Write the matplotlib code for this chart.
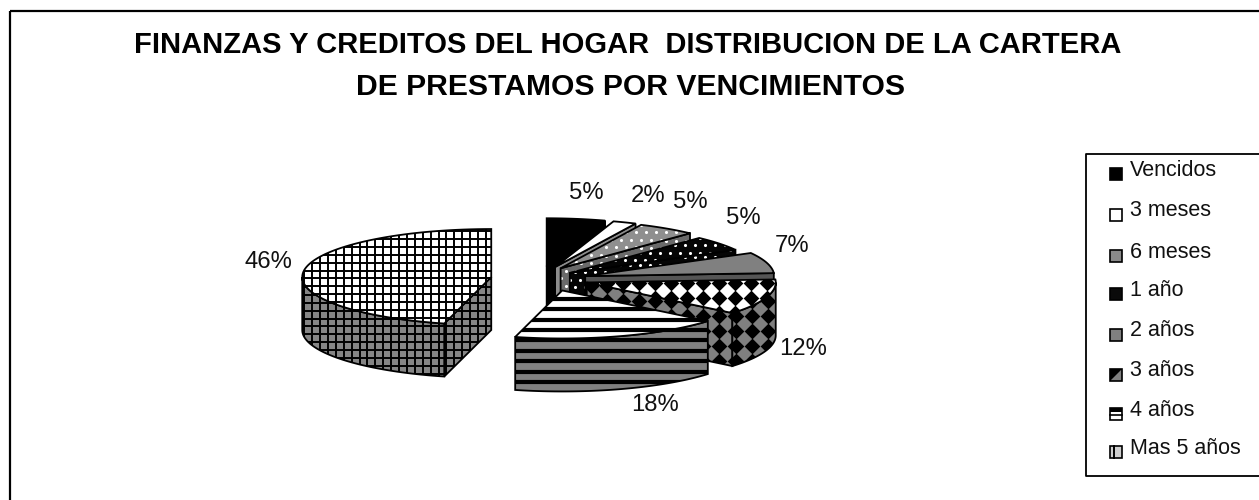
import numpy as np
import matplotlib
matplotlib.use("Agg")
import matplotlib.pyplot as plt
from matplotlib.patches import Polygon, Rectangle
from matplotlib.collections import LineCollection

plt.rcParams["font.family"] = ["Liberation Sans", "DejaVu Sans"]

TITLE_1 = "FINANZAS Y CREDITOS DEL HOGAR  DISTRIBUCION DE LA CARTERA"
TITLE_2 = "DE PRESTAMOS POR VENCIMIENTOS"
categorias = ["Vencidos", "3 meses", "6 meses", "1 año", "2 años", "3 años", "4 años", "Mas 5 años"]
valores = [5, 2, 5, 5, 7, 12, 18, 46]

# geometria del pastel (pixeles de la imagen)
CX, CY = 540, 278.6
A, B, DEPTH = 189, 48, 53
EXPLODE = 0.26
# pequeño ajuste del centro de cada porcion
ajuste_x = [-1, -3, -7, -9, -2, 0, 7, 0]
ajuste_y = [0, 0, 0, 2, 1, 0, 0, 0]

# estilo de cada porcion: top, lado, patron
estilos = [
    ("#000000", "#000000", None),
    ("#ffffff", "#8c8c8c", None),
    ("#8f8f8f", "#6a6a6a", "dots"),
    ("#050505", "#050505", "dots"),
    ("#808080", "#555555", None),
    ("#ffffff", "#808080", "diamonds"),
    ("#ffffff", "#808080", "hlines"),
    ("#ffffff", "#858585", "grid"),
]
# orden de pintado, de atras hacia delante
orden = [0, 1, 2, 3, 4, 7, 5, 6]
# posiciones de las etiquetas
label_xy = [(586, 193), (648, 196), (690, 202), (743, 218), (792, 246), (803, 349), (655, 405), (268, 262)]
legend_y = [170, 211, 252, 290, 331, 371, 410, 448]


def patron(ax, poly, kind):
    x0, y0 = poly.get_xy().min(axis=0)
    x1, y1 = poly.get_xy().max(axis=0)
    if kind == "hlines":
        ys = np.arange(y0 - 2, y1 + 10, 10.5)
        segs = [[(x0, y), (x1, y)] for y in ys]
        lc = LineCollection(segs, colors="black", linewidths=3.0, zorder=poly.get_zorder())
        ax.add_collection(lc)
        lc.set_clip_path(poly)
    elif kind == "grid":
        segs = [[(x, y0), (x, y1)] for x in np.arange(x0 + 2, x1 + 8, 7.9)]
        segs += [[(x0, y), (x1, y)] for y in np.arange(y0 + 2, y1 + 8, 7.9)]
        lc = LineCollection(segs, colors="black", linewidths=1.4, zorder=poly.get_zorder())
        ax.add_collection(lc)
        lc.set_clip_path(poly)
    elif kind == "dots":
        xs, ys = [], []
        for i, y in enumerate(np.arange(y0, y1 + 8, 7.5)):
            for x in np.arange(x0 + (i % 2) * 5, x1 + 10, 10):
                xs.append(x)
                ys.append(y)
        sc = ax.scatter(xs, ys, s=5, c="white", linewidths=0, zorder=poly.get_zorder())
        sc.set_clip_path(poly)
    elif kind == "diamonds":
        xs, ys = [], []
        for y in np.arange(y0 + 4, y1 + 16, 15):
            for x in np.arange(x0 + 4, x1 + 16, 16):
                xs.append(x)
                ys.append(y)
        sc = ax.scatter(xs, ys, s=64, c="black", marker="D", linewidths=0, zorder=poly.get_zorder())
        sc.set_clip_path(poly)


def cara(ax, pts, color, kind, z):
    poly = Polygon(pts, closed=True, facecolor=color, edgecolor="none", zorder=z)
    ax.add_patch(poly)
    patron(ax, poly, kind)
    borde = Polygon(pts, closed=True, facecolor="none", edgecolor="black", linewidth=1.3, zorder=z + 0.5)
    ax.add_patch(borde)


fig = plt.figure(figsize=(12.59, 5), dpi=100, facecolor="white")
ax = fig.add_axes([0, 0, 1, 1])
ax.set_xlim(0, 1259)
ax.set_ylim(500, 0)
ax.axis("off")

# marco exterior (sigue mas alla del borde de la imagen)
ax.plot([10.5, 10.5], [510, 11], color="black", lw=1.6, solid_capstyle="butt")
ax.plot([10.5, 1270], [11, 11], color="black", lw=1.6, solid_capstyle="butt")

ax.text(628, 45, TITLE_1, ha="center", va="center", fontsize=21, fontweight="bold", color="black")
ax.text(631, 87, TITLE_2, ha="center", va="center", fontsize=21.7, fontweight="bold", color="black")

total = sum(valores)
cortes = np.cumsum([0] + valores) / total * 360
z = 2
for i in orden:
    t0, t1 = np.radians(cortes[i]), np.radians(cortes[i + 1])
    tm = (t0 + t1) / 2
    hx = CX + EXPLODE * A * np.sin(tm) + ajuste_x[i]
    hy = CY - EXPLODE * B * np.cos(tm) + ajuste_y[i]
    top_c, lado_c, kind = estilos[i]
    ts = np.linspace(t0, t1, 80)
    arco = np.column_stack([hx + A * np.sin(ts), hy - B * np.cos(ts)])
    hub = np.array([hx, hy])
    abajo = np.array([0, DEPTH])

    # caras radiales que se ven
    if cortes[i + 1] < 180:
        p = arco[-1]
        cara(ax, [hub, p, p + abajo, hub + abajo], lado_c, kind, z)
    if cortes[i] > 180:
        p = arco[0]
        cara(ax, [hub, p, p + abajo, hub + abajo], lado_c, kind, z)
    # pared exterior
    lo, hi = max(cortes[i], 90), min(cortes[i + 1], 270)
    if hi > lo:
        tw = np.radians(np.linspace(lo, hi, 60))
        w = np.column_stack([hx + A * np.sin(tw), hy - B * np.cos(tw)])
        cara(ax, np.vstack([w, (w + abajo)[::-1]]), lado_c, kind, z + 1)
    # cara superior
    cara(ax, np.vstack([hub, arco]), top_c, kind, z + 2)
    z += 3

for (lx, ly), v in zip(label_xy, valores):
    ax.text(lx, ly, f"{v}%", ha="center", va="center", fontsize=17.2, color="#111111", zorder=60)

# leyenda
ax.plot([1272, 1086, 1086, 1272], [154, 154, 476, 476], color="black", lw=1.3, zorder=60)
for nombre, y in zip(categorias, legend_y):
    ax.text(1130, y, nombre, ha="left", va="center", fontsize=15.5, color="#111111", zorder=60)

hcol = ["#000000", "#ffffff", "#8a8a8a", "#0a0a0a", "#808080", "#808080", "#ffffff", "#cfcfcf"]
for c, y in zip(hcol, legend_y):
    ax.add_patch(Rectangle((1110, y - 2), 12, 12, facecolor=c, edgecolor="black", lw=1.2, zorder=61))
# detalle de los cuadritos con patron
ax.add_patch(Polygon([(1110, 369), (1122, 369), (1110, 381)], facecolor="black", edgecolor="none", zorder=62))
ax.add_patch(Rectangle((1110, 408), 12, 3.5, facecolor="black", edgecolor="none", zorder=62))
ax.plot([1110, 1122], [415, 415], color="black", lw=1.2, zorder=62)
ax.plot([1114, 1114], [446, 458], color="black", lw=1.4, zorder=62)

fig.savefig("out.png", dpi=100)
